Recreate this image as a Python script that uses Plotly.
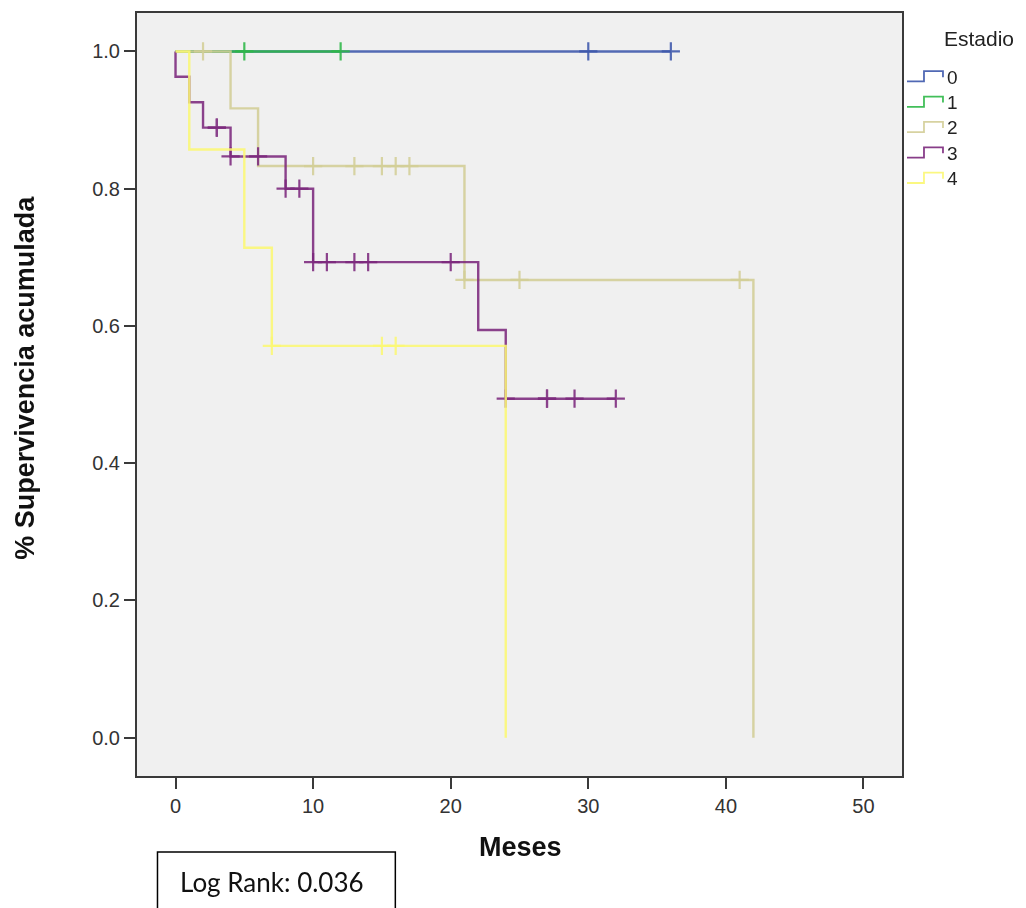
import plotly.graph_objects as go

# ---------------- data ----------------
groups = ["0", "1", "2", "3", "4"]
colors = ["#3E58AC", "#2EB848", "#D3CE97", "#7C287D", "#FBF873"]

# Kaplan-Meier step points (time in months, cumulative survival)
step_t = {
    "0": [0, 36],
    "1": [0, 12],
    "2": [0, 4, 6, 21, 42],
    "3": [0, 0, 1, 2, 4, 8, 10, 22, 24, 32],
    "4": [0, 1, 5, 7, 24],
}
step_s = {
    "0": [1.0, 1.0],
    "1": [1.0, 1.0],
    "2": [1.0, 0.917, 0.833, 0.667, 0.0],
    "3": [1.0, 0.963, 0.926, 0.889, 0.847, 0.800, 0.693, 0.594, 0.494, 0.494],
    "4": [1.0, 0.857, 0.714, 0.571, 0.0],
}
# censored observations
cens_t = {
    "0": [30, 36],
    "1": [5, 12],
    "2": [2, 10, 13, 15, 16, 17, 21, 25, 41],
    "3": [3, 3, 4, 6, 8, 9, 10, 11, 13, 14, 20, 24, 27, 27, 29, 32],
    "4": [7, 15, 16],
}
cens_s = {
    "0": [1.0, 1.0],
    "1": [1.0, 1.0],
    "2": [1.0, 0.833, 0.833, 0.833, 0.833, 0.833, 0.667, 0.667, 0.667],
    "3": [0.889, 0.889, 0.847, 0.847, 0.800, 0.800, 0.693, 0.693, 0.693, 0.693,
          0.693, 0.494, 0.494, 0.494, 0.494, 0.494],
    "4": [0.571, 0.571, 0.571],
}

x_ticks = [0, 10, 20, 30, 40, 50]
y_ticks = [0.0, 0.2, 0.4, 0.6, 0.8, 1.0]
y_tick_text = ["0.0", "0.2", "0.4", "0.6", "0.8", "1.0"]

legend_title = "Estadio"
x_title = "Meses"
y_title = "% Supervivencia acumulada"
note_text = "Log Rank: 0.036"

# ---------------- figure ----------------
W, H = 1026, 908
L, R, T, B = 136.5, 902.0, 12.5, 776.0  # plot area in pixels

fig = go.Figure()
for g, c in zip(groups, colors):
    fig.add_trace(go.Scatter(
        x=step_t[g], y=step_s[g], mode="lines",
        line=dict(color=c, width=2.4, shape="hv"),
        opacity=0.88, hoverinfo="skip", showlegend=False))
    fig.add_trace(go.Scatter(
        x=cens_t[g], y=cens_s[g], mode="markers",
        marker=dict(symbol="cross-thin", size=13, color=c,
                    line=dict(color=c, width=2.2)),
        opacity=0.88, hoverinfo="skip", showlegend=False))


def px(xp):
    return (xp - L) / (R - L)


def py(yp):
    return (B - yp) / (B - T)


shapes = []
annotations = []

# custom legend with step glyphs
legend_y0 = 76.7
legend_dy = 25.4
for i, (g, c) in enumerate(zip(groups, colors)):
    cy = legend_y0 + i * legend_dy
    path = ("M {:.5f},{:.5f} L {:.5f},{:.5f} L {:.5f},{:.5f} L {:.5f},{:.5f} L {:.5f},{:.5f}"
            .format(px(907), py(cy + 4.3), px(924), py(cy + 4.3), px(924), py(cy - 6),
                    px(943), py(cy - 6), px(943), py(cy)))
    shapes.append(dict(type="path", path=path, xref="paper", yref="paper",
                       line=dict(color=c, width=1.8), opacity=0.9))
    annotations.append(dict(text=g, xref="paper", yref="paper", x=px(945), y=py(cy),
                            xanchor="left", yanchor="middle", showarrow=False,
                            font=dict(family="Liberation Sans, Arial", size=19, color="#222")))

annotations.append(dict(text=legend_title, xref="paper", yref="paper", x=px(979), y=py(38),
                        xanchor="center", yanchor="middle", showarrow=False,
                        font=dict(family="Liberation Sans, Arial", size=21, color="#222")))

# axis titles
annotations.append(dict(text="<b>" + x_title + "</b>", xref="paper", yref="paper",
                        x=px(520), y=py(847), xanchor="center", yanchor="middle",
                        showarrow=False,
                        font=dict(family="Liberation Sans, Arial", size=27, color="#111")))
annotations.append(dict(text="<b>" + y_title + "</b>", xref="paper", yref="paper",
                        x=px(25), y=py(378), xanchor="center", yanchor="middle",
                        textangle=-90, showarrow=False,
                        font=dict(family="Liberation Sans, Arial", size=27, color="#111")))

# Log Rank box
shapes.append(dict(type="rect", xref="paper", yref="paper",
                   x0=px(157), x1=px(395), y0=py(852), y1=py(920),
                   line=dict(color="#000", width=1.5), fillcolor="rgba(0,0,0,0)"))
annotations.append(dict(text=note_text, xref="paper", yref="paper",
                        x=px(272), y=py(882), xanchor="center", yanchor="middle",
                        showarrow=False,
                        font=dict(family="Lato, Open Sans, sans-serif", size=26, color="#111")))

axis_common = dict(
    showgrid=False, zeroline=False, showline=True, mirror=True,
    linecolor="#3a3a3a", linewidth=2,
    ticks="outside", ticklen=11, tickwidth=2, tickcolor="#3a3a3a",
    tickfont=dict(family="Liberation Sans, Arial", size=20, color="#333"),
)

fig.update_layout(
    width=W, height=H,
    margin=dict(l=L, r=W - R, t=T, b=H - B, pad=0),
    paper_bgcolor="white", plot_bgcolor="#F0F0F0",
    showlegend=False,
    xaxis=dict(range=[-2.8, 52.8], tickvals=x_ticks, **axis_common),
    yaxis=dict(range=[-0.0558, 1.056], tickvals=y_ticks, ticktext=y_tick_text, **axis_common),
    shapes=shapes, annotations=annotations,
)

fig.write_html("out.html")
